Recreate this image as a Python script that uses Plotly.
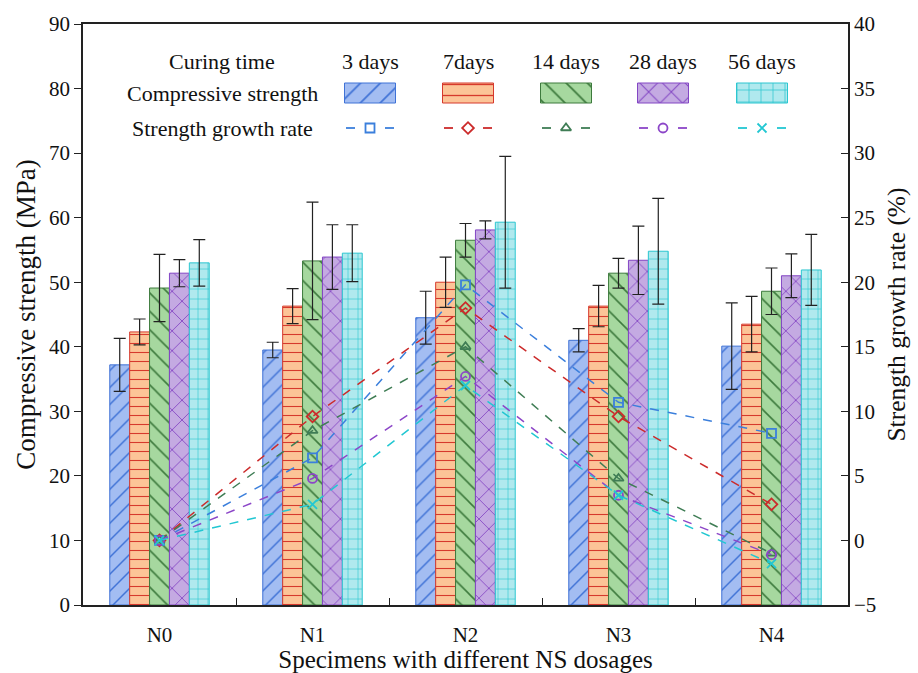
import plotly.graph_objects as go

categories = ["N0", "N1", "N2", "N3", "N4"]
curing_labels = ["3 days", "7days", "14 days", "28 days", "56 days"]

cs_3d = [37.2, 39.5, 44.5, 41.0, 40.1]
cs_7d = [42.3, 46.3, 50.0, 46.3, 43.5]
cs_14d = [49.1, 53.3, 56.5, 51.4, 48.6]
cs_28d = [51.4, 53.9, 58.1, 53.4, 51.0]
cs_56d = [53.0, 54.5, 59.3, 54.8, 51.9]

err_3d = [4.1, 1.2, 4.1, 1.8, 6.7]
err_7d = [2.0, 2.7, 3.9, 3.2, 4.3]
err_14d = [5.2, 9.1, 2.6, 2.3, 3.6]
err_28d = [2.1, 5.0, 1.4, 5.3, 3.4]
err_56d = [3.6, 4.4, 10.2, 8.2, 5.5]

gr_3d = [0.0, 6.4, 19.8, 10.7, 8.3]
gr_7d = [0.0, 9.6, 18.0, 9.6, 2.8]
gr_14d = [0.0, 8.5, 15.0, 4.8, -1.0]
gr_28d = [0.0, 4.8, 12.7, 3.5, -1.1]
gr_56d = [0.0, 2.8, 12.0, 3.5, -1.8]

strengths = [cs_3d, cs_7d, cs_14d, cs_28d, cs_56d]
errors = [err_3d, err_7d, err_14d, err_28d, err_56d]
growths = [gr_3d, gr_7d, gr_14d, gr_28d, gr_56d]

fills = ["#a3bdf2", "#fcc497", "#a6d89f", "#c4aae2", "#b0e9ee"]
fgs = ["#3f72d6", "#d6392c", "#3d7a3d", "#8346c4", "#2cc6d0"]
shapes = ["/", "-", "\\", "x", "+"]
psizes = [12, 9, 13, 14, 10]
line_colors = ["#3b7fdc", "#cc2b2b", "#3f7d55", "#8c46c8", "#22c7d2"]
symbols = ["square-open", "diamond-open", "triangle-up-open", "circle-open", "x-thin-open"]

FONT = "Liberation Serif"
bw = 0.13
fig = go.Figure()

for i in range(5):
    fig.add_trace(go.Bar(
        x=categories, y=strengths[i], width=bw, offset=-2.5 * bw + i * bw,
        marker=dict(color=fills[i], line=dict(color=fgs[i], width=1),
                    pattern=dict(shape=shapes[i], fgcolor=fgs[i], bgcolor=fills[i],
                                 size=psizes[i], solidity=0.12, fillmode="replace")),
        error_y=dict(type="data", array=errors[i], color="#222222", thickness=1.2, width=6),
        showlegend=False, xaxis="x", yaxis="y"))

for i in range(5):
    fig.add_trace(go.Scatter(
        x=categories, y=growths[i], mode="lines+markers",
        line=dict(color=line_colors[i], width=1.5, dash="dash"),
        marker=dict(symbol=symbols[i], size=9, color=line_colors[i],
                    line=dict(color=line_colors[i], width=1.8)),
        showlegend=False, xaxis="x", yaxis="y2"))

# custom table legend (pixel-like overlay axes)
sw_x = [370, 468, 566, 663, 762]
for i in range(5):
    fig.add_trace(go.Bar(
        x=[sw_x[i]], y=[-20], base=[103], width=51,
        marker=dict(color=fills[i], line=dict(color=fgs[i], width=1),
                    pattern=dict(shape=shapes[i], fgcolor=fgs[i], bgcolor=fills[i],
                                 size=psizes[i] + 2, solidity=0.12, fillmode="replace")),
        showlegend=False, xaxis="x3", yaxis="y3", hoverinfo="skip"))
    cx = sw_x[i]
    fig.add_trace(go.Scatter(
        x=[cx - 24, cx - 15, None, cx + 15, cx + 24], y=[128, 128, None, 128, 128],
        mode="lines", line=dict(color=line_colors[i], width=1.8),
        showlegend=False, xaxis="x3", yaxis="y3", hoverinfo="skip"))
    fig.add_trace(go.Scatter(
        x=[cx], y=[128], mode="markers",
        marker=dict(symbol=symbols[i], size=9, color=line_colors[i],
                    line=dict(color=line_colors[i], width=1.8)),
        showlegend=False, xaxis="x3", yaxis="y3", hoverinfo="skip"))
    fig.add_annotation(x=cx, y=61, xref="x3", yref="y3", text=curing_labels[i],
                       showarrow=False, font=dict(family=FONT, size=22, color="#111"))

for txt, yy in [("Curing time", 61), ("Compressive strength", 93), ("Strength growth rate", 128)]:
    fig.add_annotation(x=222, y=yy, xref="x3", yref="y3", text=txt, showarrow=False,
                       font=dict(family=FONT, size=22, color="#111"))

fig.update_layout(
    width=918, height=673,
    margin=dict(l=83, r=70, t=24, b=68),
    paper_bgcolor="white", plot_bgcolor="rgba(0,0,0,0)",
    barmode="overlay",
    font=dict(family=FONT, size=20, color="#111"),
    xaxis=dict(range=[-0.5, 4.5], showline=True, linecolor="#222", linewidth=1.5, mirror=True,
               ticks="inside", tickson="boundaries", ticklen=7, tickcolor="#222",
               showgrid=False, zeroline=False, ticklabelstandoff=10, automargin=False,
               title=dict(text="Specimens with different NS dosages", font=dict(size=25), standoff=0),
               tickfont=dict(size=21)),
    yaxis=dict(range=[0, 90], dtick=10, showline=True, linecolor="#222", linewidth=1.5,
               ticks="outside", ticklen=7, tickcolor="#222", showgrid=False, zeroline=False,
               automargin=False,
               title=dict(text="Compressive strength (MPa)", font=dict(size=27), standoff=6),
               tickfont=dict(size=21)),
    yaxis2=dict(range=[-5, 40], dtick=5, overlaying="y", side="right", showline=True,
                linecolor="#222", linewidth=1.5, ticks="inside", ticklen=7, tickcolor="#222",
                showgrid=False, zeroline=False, automargin=False,
                title=dict(text="Strength growth rate (%)", font=dict(size=25.5), standoff=12),
                tickfont=dict(size=21)),
    xaxis3=dict(domain=[0, 1], range=[83, 848], anchor="y3", visible=False, fixedrange=True),
    yaxis3=dict(domain=[0, 1], range=[605, 24], anchor="x3", visible=False, fixedrange=True),
)

fig.write_html("out.html")
